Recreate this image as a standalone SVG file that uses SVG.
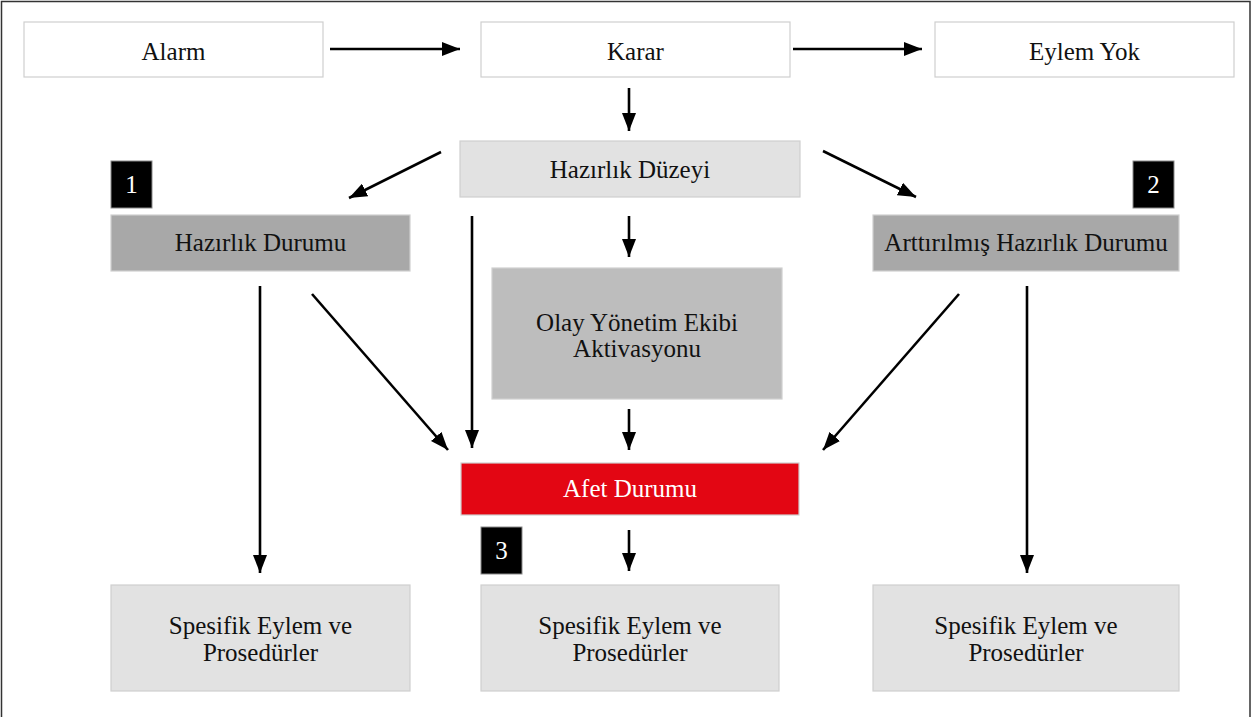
<svg xmlns="http://www.w3.org/2000/svg" width="1254" height="717" viewBox="0 0 1254 717">
  <style>
    .box { stroke: #cfcfcf; stroke-width: 1.2; }
    .white { fill: #ffffff; }
    .light { fill: #e2e2e2; }
    .mid { fill: #bdbdbd; }
    .dark { fill: #a8a8a8; }
    .red { fill: #e30613; }
    .badge { fill: #000000; stroke: #8a8a8a; stroke-width: 1; }
    text { font-family: "Liberation Serif", "Times New Roman", serif; font-size: 25px; fill: #111111; text-anchor: middle; }
    .wtxt { fill: #ffffff; }
    .link { stroke: #000000; stroke-width: 2.6; fill: none; marker-end: url(#arrow); }
  </style>
  <defs>
    <marker id="arrow" markerUnits="userSpaceOnUse" markerWidth="18" markerHeight="14" refX="18" refY="7" orient="auto">
      <path d="M0,0 L18,7 L0,14 Z" fill="#000000"/>
    </marker>
  </defs>

  <rect width="1254" height="717" fill="#ffffff"/>
  <rect x="1.5" y="1.5" width="1248.5" height="730" fill="none" stroke="#333333" stroke-width="1.5"/>

  <!-- top row -->
  <g id="alarm">
    <rect class="box white" x="24" y="22" width="299" height="55"/>
    <text x="173.5" y="60">Alarm</text>
  </g>
  <g id="karar">
    <rect class="box white" x="481" y="22" width="309" height="55"/>
    <text x="635.5" y="60">Karar</text>
  </g>
  <g id="eylem-yok">
    <rect class="box white" x="935" y="22" width="299" height="55"/>
    <text x="1084.5" y="60">Eylem Yok</text>
  </g>

  <!-- preparedness level -->
  <g id="hazirlik-duzeyi">
    <rect class="box light" x="460" y="141" width="340" height="56"/>
    <text x="630" y="178">Hazırlık Düzeyi</text>
  </g>

  <!-- numbered badges -->
  <g id="badge-1">
    <rect class="badge" x="111" y="161" width="41" height="47"/>
    <text class="wtxt" x="131.5" y="193">1</text>
  </g>
  <g id="badge-2">
    <rect class="badge" x="1133" y="161" width="41" height="47"/>
    <text class="wtxt" x="1153.5" y="193">2</text>
  </g>
  <g id="badge-3">
    <rect class="badge" x="481" y="527" width="41" height="47"/>
    <text class="wtxt" x="501.5" y="559">3</text>
  </g>

  <!-- states -->
  <g id="hazirlik-durumu">
    <rect class="box dark" x="111" y="215" width="299" height="56"/>
    <text x="260.5" y="251">Hazırlık Durumu</text>
  </g>
  <g id="arttirilmis-hazirlik-durumu">
    <rect class="box dark" x="873" y="215" width="306" height="56"/>
    <text x="1026" y="251">Arttırılmış Hazırlık Durumu</text>
  </g>
  <g id="olay-yonetim-ekibi">
    <rect class="box mid" x="492" y="268" width="290" height="131"/>
    <text x="637" y="331">Olay Yönetim Ekibi</text>
    <text x="637" y="357">Aktivasyonu</text>
  </g>
  <g id="afet-durumu">
    <rect class="box red" x="461" y="463" width="338" height="52"/>
    <text class="wtxt" x="630" y="497">Afet Durumu</text>
  </g>

  <!-- procedures -->
  <g id="spesifik-1">
    <rect class="box light" x="111" y="585" width="299" height="106"/>
    <text x="260.5" y="634">Spesifik Eylem ve</text>
    <text x="260.5" y="661">Prosedürler</text>
  </g>
  <g id="spesifik-2">
    <rect class="box light" x="481" y="585" width="298" height="106"/>
    <text x="630" y="634">Spesifik Eylem ve</text>
    <text x="630" y="661">Prosedürler</text>
  </g>
  <g id="spesifik-3">
    <rect class="box light" x="873" y="585" width="306" height="106"/>
    <text x="1026" y="634">Spesifik Eylem ve</text>
    <text x="1026" y="661">Prosedürler</text>
  </g>

  <!-- connectors -->
  <g id="connectors">
    <line class="link" x1="330" y1="49" x2="460" y2="49"/>
    <line class="link" x1="793" y1="49" x2="922" y2="49"/>
    <line class="link" x1="629" y1="88" x2="629" y2="131"/>
    <line class="link" x1="441" y1="152" x2="349" y2="198"/>
    <line class="link" x1="823" y1="151" x2="916" y2="197"/>
    <line class="link" x1="629" y1="216" x2="629" y2="257"/>
    <line class="link" x1="472" y1="216" x2="472" y2="448"/>
    <line class="link" x1="312" y1="294" x2="448" y2="450"/>
    <line class="link" x1="959" y1="294" x2="823" y2="450"/>
    <line class="link" x1="260" y1="286" x2="260" y2="573"/>
    <line class="link" x1="1027" y1="286" x2="1027" y2="573"/>
    <line class="link" x1="629" y1="409" x2="629" y2="450"/>
    <line class="link" x1="629" y1="530" x2="629" y2="571"/>
  </g>
</svg>
